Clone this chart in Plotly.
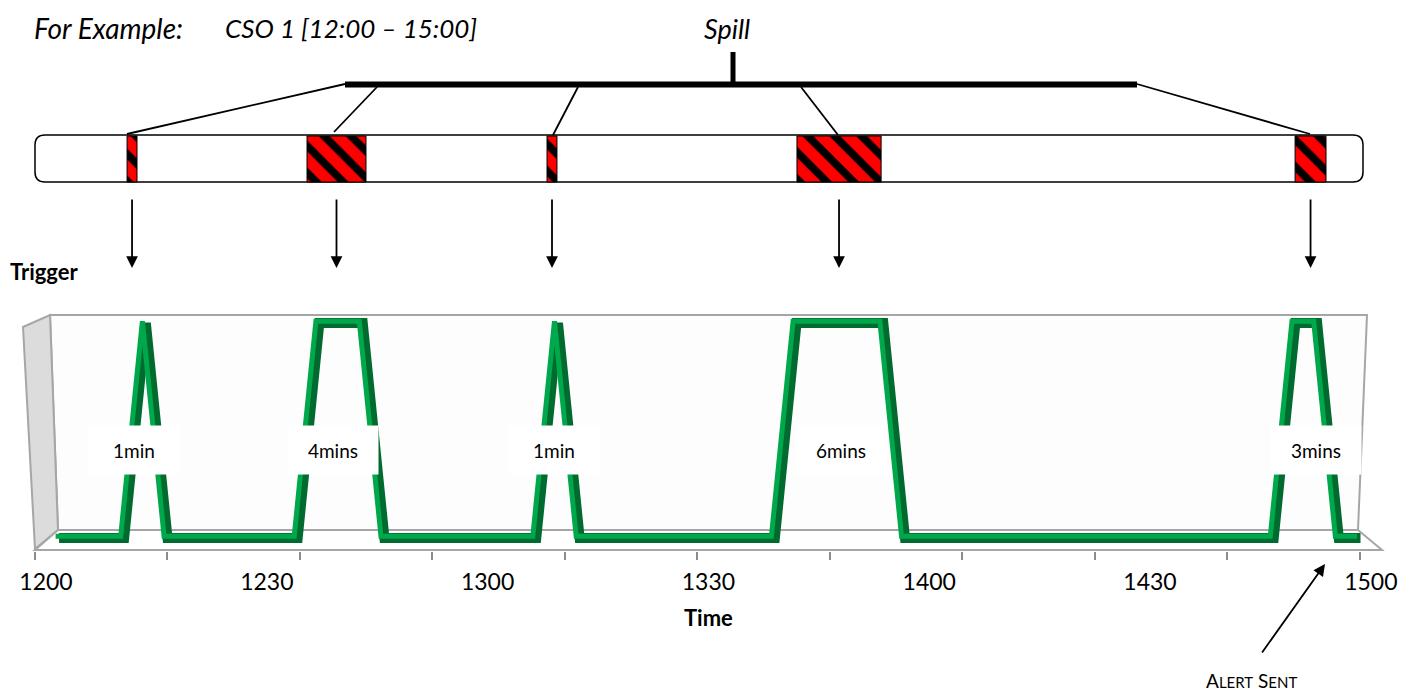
import plotly.graph_objects as go

# ---------------- data ----------------
time_labels = ["1200", "1230", "1300", "1330", "1400", "1430", "1500"]
label_index = [0, 10, 20, 30, 40, 50, 60]          # sample index of each time label
sample_index = list(range(61))                     # one sample per step
trigger = [0, 0, 0, 0, 1, 0, 0, 0, 0, 0,
           0, 0, 1, 1, 1, 0, 0, 0, 0, 0,
           0, 0, 0, 1, 0, 0, 0, 0, 0, 0,
           0, 0, 0, 0, 1, 1, 1, 1, 1, 0,
           0, 0, 0, 0, 0, 0, 0, 0, 0, 0,
           0, 0, 0, 0, 0, 0, 0, 1, 1, 0,
           0]
duration_labels = ["1min", "4mins", "1min", "6mins", "3mins"]
duration_pos = [4, 13, 23, 36, 57.5]
spill_start = [3.67, 11.82, 22.69, 34.01, 56.57]
spill_end = [4.12, 14.49, 23.14, 37.82, 57.97]
tick_marks = [-0.5, 5.5, 11.5, 17.5, 23.5, 29.5, 35.5, 41.5, 47.5, 53.5, 59.5]

# ---------------- helpers ----------------
W, H = 1413, 693
FONT = "Lato, 'Open Sans', sans-serif"


def px(x):
    return x / W


def py(y):
    return 1 - y / H


fig = go.Figure()

# line (3D ribbon look) on mid-depth axis
fig.add_trace(go.Scatter(x=[v + 0.08 for v in sample_index], y=trigger, xaxis="x2", yaxis="y",
                         mode="lines", line=dict(color="#006b2e", width=10),
                         hoverinfo="skip", showlegend=False))
fig.add_trace(go.Scatter(x=[v - 0.08 for v in sample_index],
                         y=[v + 0.008 for v in trigger], xaxis="x2", yaxis="y",
                         mode="lines", line=dict(color="#00a84c", width=5),
                         hoverinfo="skip", showlegend=False))

# hatched spill boxes
fig.add_trace(go.Bar(x=[(s + e) / 2 for s, e in zip(spill_start, spill_end)],
                     y=[1] * len(spill_start),
                     width=[e - s for s, e in zip(spill_start, spill_end)],
                     base=0, xaxis="x", yaxis="y2",
                     marker=dict(color="#ff0000",
                                 line=dict(color="#000000", width=1),
                                 pattern=dict(shape="\\", fgcolor="#000000", fgopacity=1,
                                              bgcolor="#ff0000", size=19,
                                              solidity=0.4)),
                     hoverinfo="skip", showlegend=False))

# dummy trace for label axis
fig.add_trace(go.Scatter(x=[0], y=[None], xaxis="x3", yaxis="y",
                         mode="markers", hoverinfo="skip", showlegend=False))

front_range = [-2.085, 61.91]
mid_range = [-2.644, 62.5]

fig.update_layout(
    width=W, height=H, margin=dict(l=0, r=0, t=0, b=0),
    paper_bgcolor="white", plot_bgcolor="rgba(0,0,0,0)",
    font=dict(family=FONT, color="#000000"),
    xaxis=dict(domain=[0, 1], range=front_range, anchor="free", position=py(551),
               tickmode="array", tickvals=tick_marks, ticks="outside", ticklen=8,
               tickwidth=2, tickcolor="#8c8c8c", showticklabels=False,
               showgrid=False, zeroline=False, showline=False, fixedrange=True),
    xaxis2=dict(overlaying="x", range=mid_range, visible=False, fixedrange=True),
    xaxis3=dict(overlaying="x", range=front_range, anchor="free", position=py(566),
                tickmode="array", tickvals=label_index, ticktext=time_labels,
                ticks="", showgrid=False, zeroline=False, showline=False,
                tickfont=dict(size=23, family=FONT), fixedrange=True),
    yaxis=dict(domain=[0, 1], range=[-0.721, 2.502], visible=False, fixedrange=True),
    yaxis2=dict(overlaying="y", range=[-11.11, 3.957], visible=False, fixedrange=True),
)

shapes = []
# back wall
shapes.append(dict(type="path", xref="paper", yref="paper", layer="below",
                   path=f"M {px(50)},{py(315)} L {px(1367)},{py(315)} L {px(1358)},{py(530)} L {px(58)},{py(530)} Z",
                   fillcolor="#fdfdfd", line=dict(color="#a6a6a6", width=2)))
# left wall
shapes.append(dict(type="path", xref="paper", yref="paper", layer="below",
                   path=f"M {px(23)},{py(327)} L {px(50)},{py(315)} L {px(58)},{py(530)} L {px(35)},{py(549)} Z",
                   fillcolor="#dcdcdc", line=dict(color="#a6a6a6", width=2)))
# floor
shapes.append(dict(type="path", xref="paper", yref="paper", layer="below",
                   path=f"M {px(58)},{py(530)} L {px(1358)},{py(530)} L {px(1382)},{py(550)} L {px(35)},{py(550)} Z",
                   fillcolor="#ffffff", line=dict(color="#a6a6a6", width=2)))

# rounded timeline box
x0, x1, y0, y1, r = 35, 1363, 135, 182, 10
path = (f"M {px(x0 + r)},{py(y0)} L {px(x1 - r)},{py(y0)} "
        f"Q {px(x1)},{py(y0)} {px(x1)},{py(y0 + r)} L {px(x1)},{py(y1 - r)} "
        f"Q {px(x1)},{py(y1)} {px(x1 - r)},{py(y1)} L {px(x0 + r)},{py(y1)} "
        f"Q {px(x0)},{py(y1)} {px(x0)},{py(y1 - r)} L {px(x0)},{py(y0 + r)} "
        f"Q {px(x0)},{py(y0)} {px(x0 + r)},{py(y0)} Z")
shapes.append(dict(type="path", xref="paper", yref="paper", layer="below",
                   path=path, fillcolor="white", line=dict(color="#000000", width=1.5)))

# spill bracket
shapes.append(dict(type="line", xref="paper", yref="paper",
                   x0=px(345), x1=px(1137), y0=py(84.5), y1=py(84.5),
                   line=dict(color="#000000", width=6)))
shapes.append(dict(type="line", xref="paper", yref="paper",
                   x0=px(733), x1=px(733), y0=py(52), y1=py(84),
                   line=dict(color="#000000", width=5)))
connectors = [((345, 84), (127, 134)), ((377, 87), (334, 132)), ((578, 87), (553, 135)),
              ((801, 87), (838, 135)), ((1137, 84), (1310, 134))]
for (ax_, ay_), (bx, by) in connectors:
    shapes.append(dict(type="line", xref="paper", yref="paper",
                       x0=px(ax_), y0=py(ay_), x1=px(bx), y1=py(by),
                       line=dict(color="#000000", width=1.8)))
fig.update_layout(shapes=shapes)

ann = []
ann.append(dict(text="<i>For Example:</i>", x=px(32), y=py(28), xref="paper", yref="paper",
                xanchor="left", yanchor="middle", showarrow=False, font=dict(size=28)))
ann.append(dict(text="<i>CSO 1 [12:00 – 15:00]</i>", x=px(223), y=py(28), xref="paper",
                yref="paper", xanchor="left", yanchor="middle", showarrow=False,
                font=dict(size=26)))
ann.append(dict(text="<i>Spill</i>", x=px(727), y=py(28), xref="paper", yref="paper",
                xanchor="center", yanchor="middle", showarrow=False, font=dict(size=27)))
ann.append(dict(text="<b>Trigger</b>", x=px(8), y=py(272), xref="paper", yref="paper",
                xanchor="left", yanchor="middle", showarrow=False, font=dict(size=22)))
ann.append(dict(text="<b>Time</b>", x=px(708), y=py(617), xref="paper", yref="paper",
                xanchor="center", yanchor="middle", showarrow=False, font=dict(size=22)))
ann.append(dict(text="A<span style='font-size:15px'>LERT</span> S<span style='font-size:15px'>ENT</span>",
                x=px(1251), y=py(680), xref="paper", yref="paper", xanchor="center",
                yanchor="middle", showarrow=False, font=dict(size=19)))
# alert arrow
ann.append(dict(text="", x=px(1325), y=py(564), xref="paper", yref="paper",
                ax=-64, ay=90, showarrow=True, arrowhead=2, arrowsize=1.3,
                arrowwidth=1.8, arrowcolor="#000000"))
# down arrows from spill boxes to trigger chart
for s, e in zip(spill_start, spill_end):
    ann.append(dict(text="", x=(s + e) / 2, xref="x", y=py(268), yref="paper",
                    ax=0, ay=-70, showarrow=True, arrowhead=2, arrowsize=1.3,
                    arrowwidth=1.8, arrowcolor="#000000"))
# duration labels
for lab, pos in zip(duration_labels, duration_pos):
    ann.append(dict(text=lab, x=pos, xref="x", y=0.41, yref="y", showarrow=False,
                    bgcolor="white", width=88, height=46, font=dict(size=19)))
fig.update_layout(annotations=ann)

fig.write_html("out.html", config=dict(displayModeBar=False),
               post_script="document.body.style.margin='0';document.body.style.overflow='hidden';")
